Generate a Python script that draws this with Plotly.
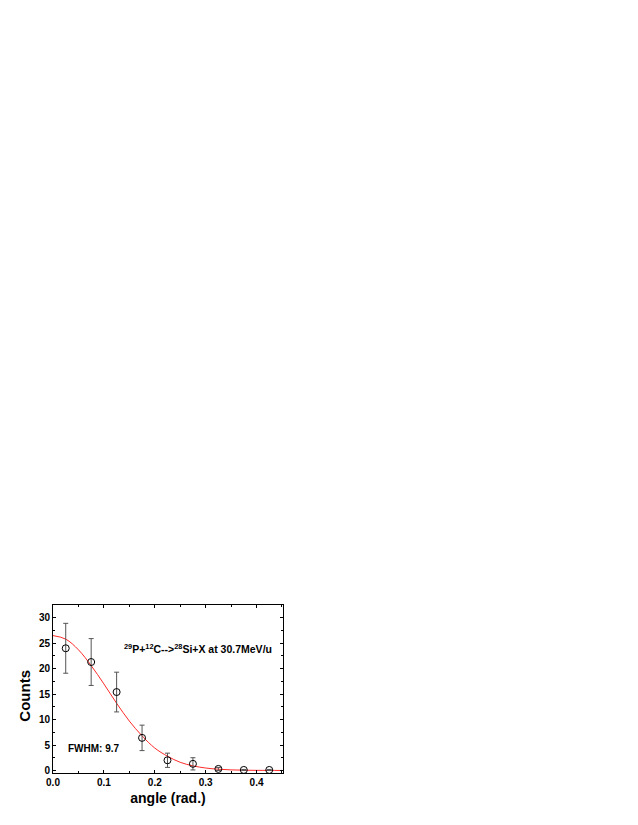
import plotly.graph_objects as go

# measured points
angle = [0.025, 0.075, 0.125, 0.175, 0.225, 0.275, 0.325, 0.375, 0.425]
counts = [24.0, 21.3, 15.4, 6.4, 2.0, 1.3, 0.3, 0.1, 0.1]
err = [4.9, 4.6, 3.9, 2.5, 1.4, 1.2, 0.3, 0.1, 0.1]

# fitted curve
fit_x = [0.0, 0.025, 0.05, 0.075, 0.1, 0.125, 0.15, 0.175, 0.2, 0.225,
         0.25, 0.275, 0.3, 0.325, 0.35, 0.375, 0.4, 0.425, 0.45]
fit_y = [26.5, 25.8, 23.7, 20.6, 17.0, 13.2, 9.7, 6.8, 4.4, 2.8,
         1.6, 0.9, 0.48, 0.24, 0.11, 0.05, 0.02, 0.01, 0.0]

fnt = "Liberation Sans, Arial, sans-serif"

fig = go.Figure()
fig.add_trace(go.Scatter(x=fit_x, y=fit_y, mode="lines", line=dict(color="#ff2a2a", width=1, shape="spline"),
                         showlegend=False))
fig.add_trace(go.Scatter(x=angle, y=counts, mode="markers",
                         marker=dict(symbol="circle-open", size=7, color="black", line=dict(width=1)),
                         error_y=dict(type="data", array=err, color="#555555", thickness=1, width=2.5),
                         showlegend=False))

fig.add_annotation(x=0.136, y=24.0, xanchor="left", yanchor="middle", showarrow=False,
                   text="<b><sup>29</sup>P+<sup>12</sup>C--><sup>28</sup>Si+X at 30.7MeV/u</b>",
                   font=dict(family=fnt, size=10.5, color="black"))
fig.add_annotation(x=0.026, y=4.3, xanchor="left", yanchor="middle", showarrow=False,
                   text="<b>FWHM: 9.7</b>", font=dict(family=fnt, size=10, color="black"))
# y axis title placed by hand
fig.add_annotation(xref="paper", yref="paper", x=-0.122, y=0.46, textangle=-90, showarrow=False,
                   xanchor="center", yanchor="middle",
                   text="<b>Counts</b>", font=dict(family=fnt, size=15, color="black"))

axis_common = dict(showline=True, linecolor="black", linewidth=1, mirror="allticks",
                   ticks="inside", ticklen=3, tickcolor="black", showgrid=False, zeroline=False,
                   automargin=False,
                   tickfont=dict(family=fnt, size=10, color="black", weight="bold"))

fig.update_xaxes(range=[0, 0.452], dtick=0.1, tickformat=".1f",
                 minor=dict(ticks="inside", dtick=0.05, ticklen=2, tickcolor="black"),
                 title=dict(text="<b>angle (rad.)</b>", font=dict(family=fnt, size=14, color="black"), standoff=6),
                 **axis_common)
fig.update_yaxes(range=[-0.5, 32.5], dtick=5,
                 minor=dict(ticks="inside", dtick=2.5, ticklen=2, tickcolor="black"),
                 **axis_common)

# page body adds ~8px offset, so margins are shifted accordingly
fig.update_layout(width=638, height=825, plot_bgcolor="white", paper_bgcolor="white",
                  margin=dict(l=45, r=363, t=597, b=60), font=dict(family=fnt))

fig.write_html("out.html")
